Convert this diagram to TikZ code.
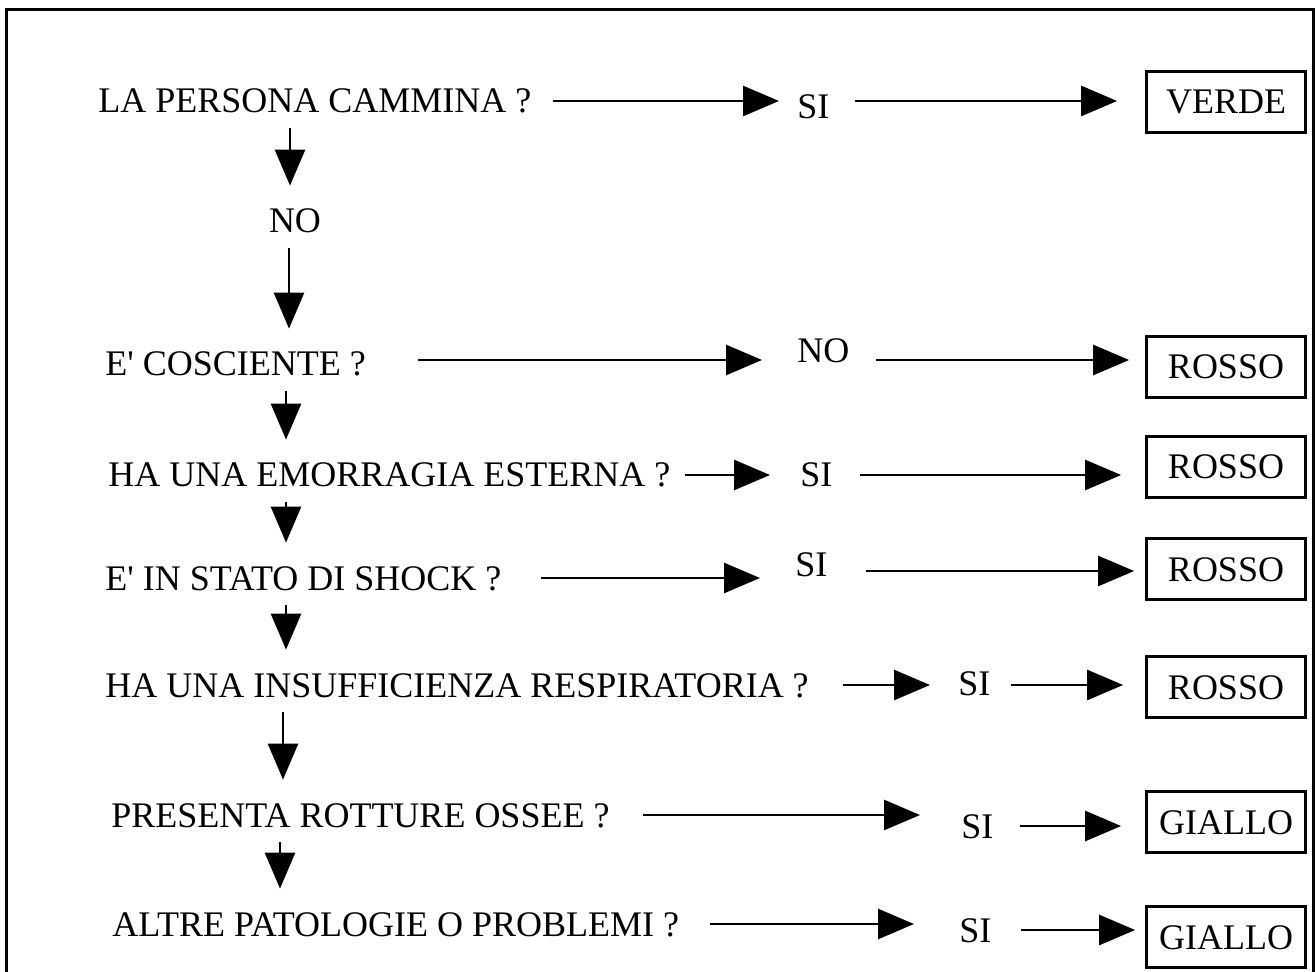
\documentclass[tikz,border=0pt]{standalone}
\usepackage{fontspec}
\setmainfont{Liberation Serif}
\usetikzlibrary{arrows.meta}

\begin{document}
\begin{tikzpicture}[x=0.5pt,y=-0.5pt,->,>={Triangle[length=18pt,width=15pt]},line width=1.4pt,
  every node/.style={font=\fontsize{18pt}{20pt}\selectfont,inner sep=0pt,text height=12pt,text depth=0pt},
  esito/.style={draw,line width=1.4pt,minimum width=79.5pt,minimum height=30.5pt},
  giu/.style={shorten <=7pt,shorten >=11pt}]

\useasboundingbox (0,0) rectangle (1316,972);
\draw[-,line width=1.5pt] (6,995) -- (6,10) -- (1313,10) -- (1313,995);

% domande
\node[anchor=base west] (q1) at (97,113) {LA PERSONA CAMMINA ?};
\node[anchor=base] (no1) at (295,233) {NO};
\node[anchor=base west] (q2) at (104,376) {E\textquotesingle{} COSCIENTE ?};
\node[anchor=base west] (q3) at (107,487) {HA UNA EMORRAGIA ESTERNA ?};
\node[anchor=base west] (q4) at (104,590) {E\textquotesingle{} IN STATO DI SHOCK ?};
\node[anchor=base west] (q5) at (104,697) {HA UNA INSUFFICIENZA RESPIRATORIA ?};
\node[anchor=base west] (q6) at (110,827) {PRESENTA ROTTURE OSSEE ?};
\node[anchor=base west] (q7) at (111,936) {ALTRE PATOLOGIE O PROBLEMI ?};

% risposte
\node[anchor=base west] (a1) at (796,119) {SI};
\node[anchor=base west] (a2) at (796,363) {NO};
\node[anchor=base west] (a3) at (799,487) {SI};
\node[anchor=base west] (a4) at (794,576) {SI};
\node[anchor=base west] (a5) at (957,695) {SI};
\node[anchor=base west] (a6) at (960,838) {SI};
\node[anchor=base west] (a7) at (958,942) {SI};

% codici colore
\node[esito] (r1) at (1226,102) {VERDE};
\node[esito] (r2) at (1226,367) {ROSSO};
\node[esito] (r3) at (1226,467) {ROSSO};
\node[esito] (r4) at (1226,569) {ROSSO};
\node[esito] (r5) at (1226,687) {ROSSO};
\node[esito] (r6) at (1226,822) {GIALLO};
\node[esito] (r7) at (1226,937) {GIALLO};

\path
(q1.south -| 290,0) edge [giu] (no1.north -| 290,0)
(no1.south -| 289,0) edge [giu] (q2.north -| 289,0)
(q2.south -| 286,0) edge [giu] (q3.north -| 286,0)
(q3.south -| 286,0) edge [giu] (q4.north -| 286,0)
(q4.south -| 286,0) edge [giu] (q5.north -| 286,0)
(q5.south -| 283,0) edge [giu] (q6.north -| 283,0)
(q6.south -| 280,0) edge [giu] (q7.north -| 280,0)
;
\path
(q1) edge [shorten <=10pt,shorten >=8.5pt] (q1.east -| a1.west)
(a1.east |- q1.east) edge [shorten <=12pt,shorten >=14pt] (r1.west |- q1.east)
([yshift=2pt]q2.east) edge [shorten <=25.5pt,shorten >=17pt] ([yshift=2pt]q2.east -| a2.west)
([yshift=2pt]a2.east |- q2.east) edge [shorten <=12.5pt,shorten >=8pt] ([yshift=2pt]r2.west |- q2.east)
(q3) edge [shorten <=6.5pt,shorten >=14.5pt] (q3.east -| a3.west)
(a3.east |- q3.east) edge [shorten <=13pt,shorten >=12pt] (r3.west |- q3.east)
(q4) edge [shorten <=19pt,shorten >=17pt] (q4.east -| a4.west)
([yshift=3.5pt]a4.east |- q4.east) edge [shorten <=18.5pt,shorten >=5.5pt] ([yshift=3.5pt]r4.west |- q4.east)
(q5) edge [shorten <=16.5pt,shorten >=13.5pt] (q5.east -| a5.west)
(a5.east |- q5.east) edge [shorten <=9.5pt,shorten >=11pt] (r5.west |- q5.east)
(q6) edge [shorten <=16pt,shorten >=20pt] (q6.east -| a6.west)
(a6) edge [shorten <=12.5pt,shorten >=12pt] (a6.east -| r6.west)
(q7) edge [shorten <=14.5pt,shorten >=22pt] (q7.east -| a7.west)
(a7) edge [shorten <=14pt,shorten >=5pt] (a7.east -| r7.west)
;
\end{tikzpicture}
\end{document}
